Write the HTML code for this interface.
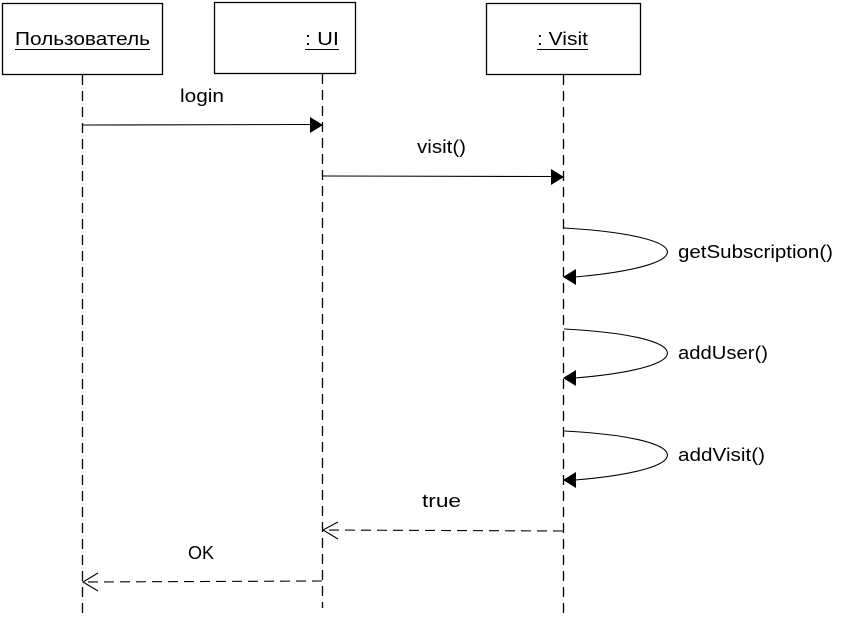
<!DOCTYPE html>
<html><head><meta charset="utf-8"><style>html,body{margin:0;padding:0;background:#fff}svg{display:block}text{font-family:"Liberation Sans",sans-serif;font-size:18px;fill:#000}</style></head><body>
<svg width="846" height="627" viewBox="0 0 846 627" xmlns="http://www.w3.org/2000/svg">
<g fill="#fff" stroke="#000" stroke-width="1.3">
<rect x="2.5" y="3.5" width="160" height="71"/>
<rect x="214.5" y="2.5" width="141" height="71"/>
<rect x="486.5" y="3.5" width="154" height="71"/>
</g>
<text x="15" y="45" textLength="135" lengthAdjust="spacingAndGlyphs">Пользователь</text>
<line x1="15" y1="49.5" x2="150" y2="49.5" stroke="#000"/>
<text x="305" y="45" textLength="34" lengthAdjust="spacingAndGlyphs">: UI</text>
<line x1="305" y1="49.5" x2="339" y2="49.5" stroke="#000"/>
<text x="537" y="45" textLength="51" lengthAdjust="spacingAndGlyphs">: Visit</text>
<line x1="537" y1="49.5" x2="588" y2="49.5" stroke="#000"/>
<g stroke="#000" stroke-width="1.3" stroke-dasharray="10,6" fill="none">
<line x1="82.5" y1="75" x2="82.5" y2="616"/>
<line x1="322.5" y1="74" x2="322.5" y2="608"/>
<line x1="563.5" y1="75" x2="563.5" y2="616"/>
</g>
<g stroke="#000" stroke-width="1.1" fill="none">
<line x1="83" y1="125" x2="310" y2="124.5"/>
<line x1="323" y1="176" x2="551" y2="176.5"/>
<path d="M564 228 C700 236 700 266 575 277"/>
<path d="M564 329 C700 336 700 368 575 378"/>
<path d="M564 431 C700 438 700 470 575 480"/>
<line x1="563" y1="531" x2="324" y2="530" stroke-dasharray="10,6"/>
<line x1="322" y1="581" x2="84" y2="582" stroke-dasharray="10,6"/>
<polyline points="338,522 323,530 338,539"/>
<polyline points="98,573 83,582 98,591"/>
</g>
<g fill="#000">
<polygon points="310,117 323,125 310,133"/>
<polygon points="551,169 564,177 551,185"/>
<polygon points="576,269 563,277 576,285"/>
<polygon points="576,370 563,378 576,386"/>
<polygon points="576,472 563,480 576,488"/>
</g>
<text x="180" y="102" textLength="44" lengthAdjust="spacingAndGlyphs">login</text>
<text x="417" y="153" textLength="49" lengthAdjust="spacingAndGlyphs">visit()</text>
<text x="678" y="258" textLength="155" lengthAdjust="spacingAndGlyphs">getSubscription()</text>
<text x="678" y="359" textLength="90" lengthAdjust="spacingAndGlyphs">addUser()</text>
<text x="678" y="461" textLength="87" lengthAdjust="spacingAndGlyphs">addVisit()</text>
<text x="422" y="507" textLength="39" lengthAdjust="spacingAndGlyphs">true</text>
<text x="188" y="559">OK</text>
</svg>
</body></html>
